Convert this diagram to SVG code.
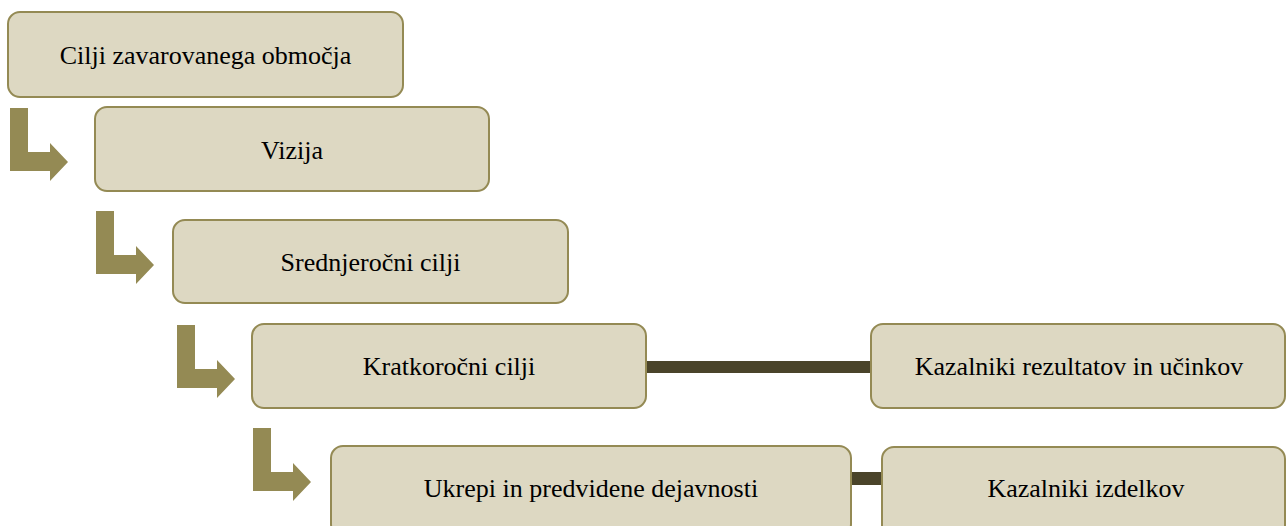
<svg xmlns="http://www.w3.org/2000/svg" width="1286" height="526" viewBox="0 0 1286 526">
<defs>
<style>
.box{fill:#DDD8C2;stroke:#948A54;stroke-width:2}
.lbl{font-family:"Liberation Serif","Times New Roman",serif;font-size:26px;fill:#000;text-anchor:middle}
.arr{fill:#948A54}
.con{fill:#4A442A}
</style>
<polygon id="bent" class="arr" points="0,0 18,0 18,44 40,44 40,35 58,54 40,73 40,63 0,63"/>
</defs>
<rect width="1286" height="526" fill="#fff"/>
<g id="connectors">
<use href="#bent" x="10" y="108"/>
<use href="#bent" x="96" y="211"/>
<use href="#bent" x="177" y="325"/>
<use href="#bent" x="253" y="428"/>
<rect class="con" x="646" y="361" width="225" height="12"/>
<rect class="con" x="851" y="472" width="31" height="13"/>
</g>
<g id="n1"><rect class="box" x="8" y="12" width="395" height="85" rx="12"/><text class="lbl" x="205.5" y="64">Cilji zavarovanega območja</text></g>
<g id="n2"><rect class="box" x="95" y="107" width="394" height="84" rx="12"/><text class="lbl" x="292" y="159">Vizija</text></g>
<g id="n3"><rect class="box" x="173" y="220" width="395" height="83" rx="12"/><text class="lbl" x="370.5" y="271">Srednjeročni cilji</text></g>
<g id="n4"><rect class="box" x="252" y="324" width="394" height="84" rx="12"/><text class="lbl" x="449" y="375">Kratkoročni cilji</text></g>
<g id="n5"><rect class="box" x="331" y="446" width="520" height="90" rx="12"/><text class="lbl" x="591" y="497">Ukrepi in predvidene dejavnosti</text></g>
<g id="n6"><rect class="box" x="871" y="324" width="414" height="84" rx="12"/><text class="lbl" x="1079" y="375">Kazalniki rezultatov in učinkov</text></g>
<g id="n7"><rect class="box" x="882" y="447" width="403" height="90" rx="12"/><text class="lbl" x="1086" y="497">Kazalniki izdelkov</text></g>
</svg>
